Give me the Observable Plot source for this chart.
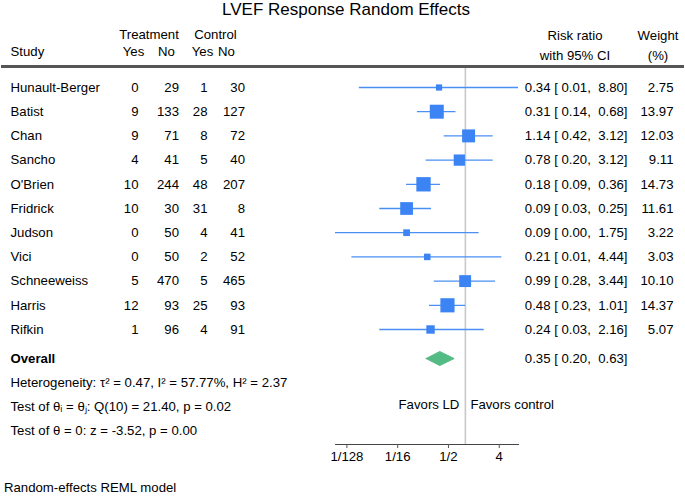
<!DOCTYPE html>
<html>
<head>
<meta charset="utf-8">
<script src="https://cdn.jsdelivr.net/npm/d3@7"></script>
<script src="https://cdn.jsdelivr.net/npm/@observablehq/plot@0.6"></script>
<style>
  body { margin: 0; background: #fff; font-family: "Liberation Sans", Arial, Helvetica, sans-serif; color: #000; }
  #wrap { position: relative; width: 685px; height: 500px; overflow: hidden; }
  #title { height: 20px; width: 685px; padding-left: 7px; box-sizing: border-box; text-align: center; font-size: 17px; line-height: 19px; }
  #chart svg { display: block; }
  #caption { padding-left: 4px; font-size: 13.2px; line-height: 16px; }
</style>
</head>
<body>
<div id="wrap">
  <div id="title">LVEF Response Random Effects</div>
  <div id="chart"></div>
  <div id="caption">Random-effects REML model</div>
</div>
<script>
// ---- data ----
const studies = ["Hunault-Berger", "Batist", "Chan", "Sancho", "O'Brien", "Fridrick", "Judson", "Vici", "Schneeweiss", "Harris", "Rifkin"];
const treatYes = [0, 9, 9, 4, 10, 10, 0, 0, 5, 12, 1];
const treatNo = [29, 133, 71, 41, 244, 30, 50, 50, 470, 93, 96];
const ctrlYes = [1, 28, 8, 5, 48, 31, 4, 2, 5, 25, 4];
const ctrlNo = [30, 127, 72, 40, 207, 8, 41, 52, 465, 93, 91];
const riskRatio = [0.34, 0.31, 1.14, 0.78, 0.18, 0.09, 0.09, 0.21, 0.99, 0.48, 0.24];
const ciLow = [0.013, 0.14, 0.42, 0.20, 0.09, 0.03, 0.0049, 0.0096, 0.28, 0.23, 0.03];
const ciHigh = [8.80, 0.68, 3.12, 3.12, 0.36, 0.25, 1.75, 4.44, 3.44, 1.01, 2.16];
const weight = [2.75, 13.97, 12.03, 9.11, 14.73, 11.61, 3.22, 3.03, 10.10, 14.37, 5.07];
const overallLabel = "Overall";
const overallRR = 0.35, overallLow = 0.20, overallHigh = 0.63;
const statLines = [
  "Heterogeneity: \u03C4\u00B2 = 0.47, I\u00B2 = 57.77%, H\u00B2 = 2.37",
  "Test of \u03B8\u1D62 = \u03B8\u2C7C: Q(10) = 21.40, p = 0.02",
  "Test of \u03B8 = 0: z = -3.52, p = 0.00"
];
const axisTicks = [1/128, 1/16, 1/2, 4];
const axisTickLabels = ["1/128", "1/16", "1/2", "4"];
const favorLabels = ["Favors LD", "Favors control"];
const headerGroups = ["Treatment", "Control"];
const headerCols = ["Study", "Yes", "No", "Yes", "No"];
const headerRight1 = ["Risk ratio", "Weight"];
const headerRight2 = ["with 95% CI", "(%)"];

// ---- build ----
const f2 = v => v.toFixed(2);
const ciText = (r, lo, hi) => `${f2(r)} [ ${f2(lo)},  ${f2(hi)}]`;
const rows = studies.map((s, i) => ({
  study: s, i, ty: treatYes[i], tn: treatNo[i], cy: ctrlYes[i], cn: ctrlNo[i],
  rr: riskRatio[i], low: ciLow[i], high: ciHigh[i], w: weight[i],
  ci: ciText(riskRatio[i], ciLow[i], ciHigh[i])
}));
const overallRow = studies.length + 0.2;
const overall = [{label: overallLabel, y: overallRow, ci: ciText(overallRR, overallLow, overallHigh)}];
const stats = statLines.map((t, k) => ({t, y: overallRow + 1 + k}));
const dh = 0.29;
const diamond = [
  {x: overallLow, y: overallRow}, {x: overallRR, y: overallRow - dh},
  {x: overallHigh, y: overallRow}, {x: overallRR, y: overallRow + dh},
  {x: overallLow, y: overallRow}
];

const TOP = 20; // svg offset on page (title height)
const W = 685, H = 460, L = 335, R = 518, T = 47, B = 36;
const fs = 13.2;
const ink = "#000";

const xOpts = {type: "log", base: 2, domain: d3.extent([...ciLow, ...ciHigh]), range: [L, R]};
const yOpts = {domain: [0, studies.length - 1], range: [67, 309]};
const xs = Plot.scale({x: xOpts});
const ys = Plot.scale({y: yOpts});
const headerRule = [{y: ys.invert(66 - TOP), x1: xs.invert(1), x2: xs.invert(W - 1)}];

const txt = (data, o) => Plot.text(data, {fontSize: fs, fill: ink, lineAnchor: "middle", ...o});
const head = (label, px, py, anchor, side) => txt([label], {
  text: d => d,
  frameAnchor: side === "right" ? "top-right" : "top-left",
  dx: px - (side === "right" ? R : L),
  dy: py - TOP - T,
  textAnchor: anchor
});

const chart = Plot.plot({
  width: W, height: H,
  marginLeft: L, marginRight: W - R, marginTop: T, marginBottom: B,
  style: {fontFamily: '"Liberation Sans", Arial, Helvetica, sans-serif', background: "#fff", overflow: "visible"},
  x: xOpts,
  y: {...yOpts, axis: null},
  r: {type: "sqrt", domain: [0, d3.max(weight)], range: [0, 8.1]},
  marks: [
    Plot.ruleX([1], {stroke: "#c8c8c8", strokeWidth: 1.6}),
    Plot.frame({anchor: "bottom", stroke: "#444"}),
    Plot.axisX({ticks: axisTicks, tickFormat: d => axisTickLabels[axisTicks.indexOf(d)], tickSize: 4, tickPadding: 3, fontSize: fs, stroke: "#555", fill: ink}),
    Plot.ruleY(headerRule, {y: "y", x1: "x1", x2: "x2", stroke: "#555555", strokeWidth: 3}),
    // headers
    head(headerGroups[0], 148.5, 34.5, "middle", "left"),
    head(headerGroups[1], 215, 34.5, "middle", "left"),
    head(headerCols[0], 10, 51, "start", "left"),
    head(headerCols[1], 133, 51, "middle", "left"),
    head(headerCols[2], 166, 51, "middle", "left"),
    head(headerCols[3], 202, 51, "middle", "left"),
    head(headerCols[4], 226, 51, "middle", "left"),
    head(headerRight1[0], 574.5, 35, "middle", "right"),
    head(headerRight1[1], 657.5, 35, "middle", "right"),
    head(headerRight2[0], 574.5, 55, "middle", "right"),
    head(headerRight2[1], 657.5, 55, "middle", "right"),
    // study rows CI lines and squares
    Plot.ruleY(rows, {y: "i", x1: "low", x2: "high", stroke: "#4b8ff5", strokeWidth: 1.3}),
    Plot.dot(rows, {x: "rr", y: "i", r: "w", symbol: "square", fill: "#3c84f4"}),
    Plot.line(diamond, {x: "x", y: "y", fill: "#55bb84", stroke: "#55bb84", strokeWidth: 1}),
    // table text
    txt(rows, {y: "i", text: "study", frameAnchor: "left", dx: 10 - L, textAnchor: "start"}),
    txt(rows, {y: "i", text: d => String(d.ty), frameAnchor: "left", dx: 138 - L, textAnchor: "end"}),
    txt(rows, {y: "i", text: d => String(d.tn), frameAnchor: "left", dx: 178.5 - L, textAnchor: "end"}),
    txt(rows, {y: "i", text: d => String(d.cy), frameAnchor: "left", dx: 207 - L, textAnchor: "end"}),
    txt(rows, {y: "i", text: d => String(d.cn), frameAnchor: "left", dx: 244.5 - L, textAnchor: "end"}),
    txt(rows, {y: "i", text: "ci", frameAnchor: "right", dx: 627 - R, textAnchor: "end"}),
    txt(rows, {y: "i", text: d => f2(d.w), frameAnchor: "right", dx: 673 - R, textAnchor: "end"}),
    txt(overall, {y: "y", text: "label", frameAnchor: "left", dx: 10 - L, textAnchor: "start", fontWeight: "bold"}),
    txt(overall, {y: "y", text: "ci", frameAnchor: "right", dx: 627 - R, textAnchor: "end"}),
    txt(stats, {y: "y", text: "t", frameAnchor: "left", dx: 10 - L, textAnchor: "start"}),
    // favors
    txt([favorLabels[0]], {x: () => 1, text: d => d, frameAnchor: "bottom", dy: -40, dx: -6, textAnchor: "end"}),
    txt([favorLabels[1]], {x: () => 1, text: d => d, frameAnchor: "bottom", dy: -40, dx: 5, textAnchor: "start"})
  ]
});

document.getElementById("chart").appendChild(chart);
</script>
</body>
</html>
